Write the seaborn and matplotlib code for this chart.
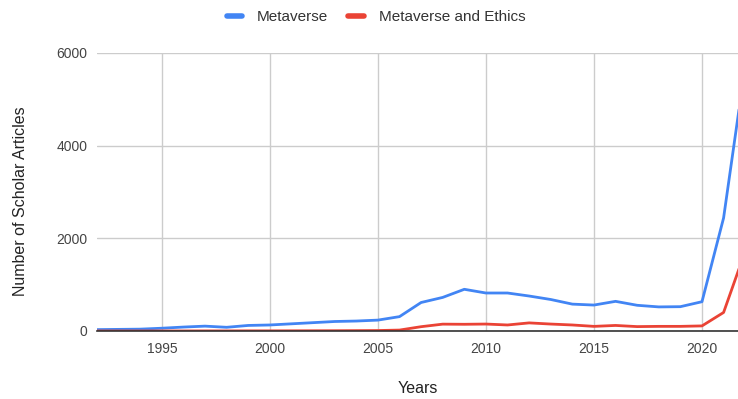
import matplotlib
matplotlib.use("Agg")
import matplotlib.pyplot as plt
import seaborn as sns
import pandas as pd

years = list(range(1992, 2023))
metaverse = [30, 35, 40, 60, 85, 105, 80, 120, 130, 155, 180, 205, 215, 235, 310,
             615, 725, 900, 820, 820, 755, 680, 580, 560, 640, 555, 520, 525, 632,
             2440, 5720]
metaverse_ethics = [0, 0, 0, 1, 1, 2, 2, 3, 3, 4, 5, 6, 8, 10, 20,
                    93, 148, 145, 150, 130, 175, 150, 130, 100, 120, 95, 100, 100, 110,
                    400, 1720]
series_names = ["Metaverse", "Metaverse and Ethics"]
x_ticks = [1995, 2000, 2005, 2010, 2015, 2020]
y_ticks = [0, 2000, 4000, 6000]

df = pd.DataFrame({
    "Year": years * 2,
    "Articles": metaverse + metaverse_ethics,
    "Series": [series_names[0]] * len(years) + [series_names[1]] * len(years),
})

sns.set_theme(style="white")
plt.rcParams["font.family"] = ["Liberation Sans", "DejaVu Sans"]

fig = plt.figure(figsize=(7.38, 3.99), dpi=100)
ax = fig.add_axes([97 / 738, 1 - 331 / 399, 1 - 97 / 738, (331 - 53) / 399])

palette = {series_names[0]: "#4285F4", series_names[1]: "#EA4335"}
sns.lineplot(data=df, x="Year", y="Articles", hue="Series", palette=palette,
             linewidth=2.0, ax=ax, legend=True)

ax.set_xlim(1992, 2021.667)
ax.set_ylim(0, 6000)
ax.set_xticks(x_ticks)
ax.set_yticks(y_ticks)
ax.tick_params(axis="both", length=0, labelsize=10, colors="#444444")
ax.tick_params(axis="x", pad=8)
ax.tick_params(axis="y", pad=7)

ax.grid(True, color="#cccccc", linewidth=1.0)
ax.set_axisbelow(True)
for side in ["top", "right", "left"]:
    ax.spines[side].set_visible(False)
ax.spines["bottom"].set_color("#333333")
ax.spines["bottom"].set_linewidth(1.2)
ax.spines["bottom"].set_zorder(3)

ax.set_xlabel("Years", fontsize=11.5, color="#222222", labelpad=18)
ax.set_ylabel("Number of Scholar Articles", fontsize=11.5, color="#222222")
ax.yaxis.set_label_coords(-(97 - 28) / (738 - 97), 0.468)

handles, labels = ax.get_legend_handles_labels()
ax.get_legend().remove()
for h in handles:
    h.set_linewidth(4)
fig.legend(handles, labels, loc="center", bbox_to_anchor=(376 / 738, 1 - 17 / 399),
           ncol=2, frameon=False, fontsize=11, handlelength=1.0, columnspacing=1.3,
           handletextpad=1.0, labelcolor="#333333")

fig.savefig("out.png", dpi=100)
